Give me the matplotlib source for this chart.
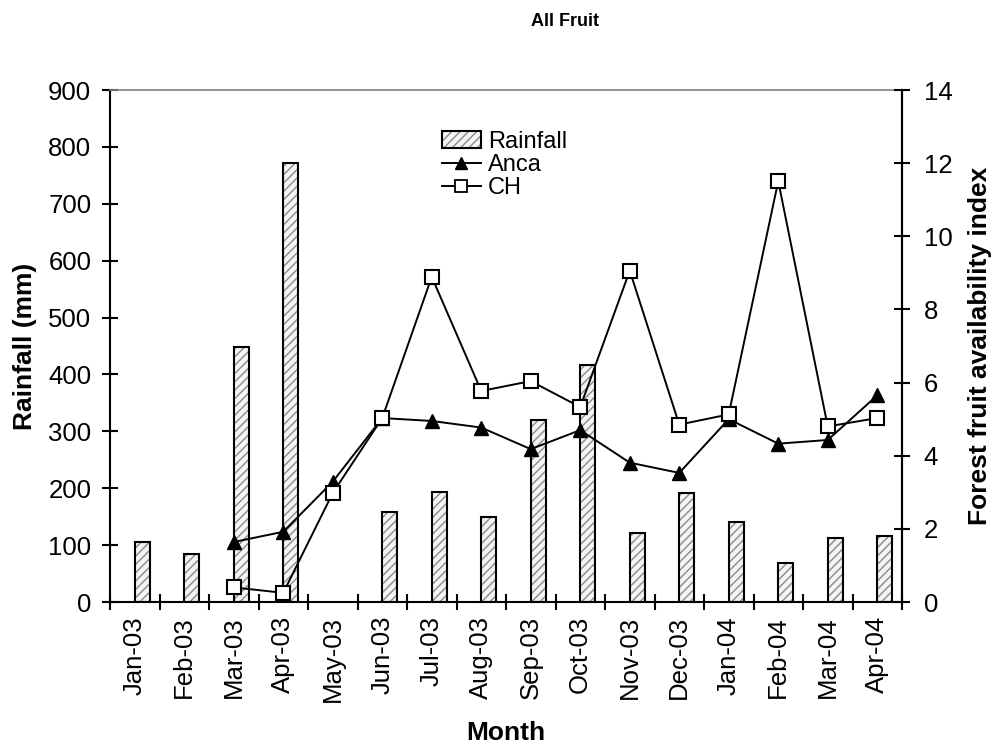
import numpy as np
import matplotlib
matplotlib.use("Agg")
import matplotlib.pyplot as plt
from matplotlib.patches import Patch
from matplotlib.legend_handler import HandlerTuple

plt.rcParams['font.family'] = ['Liberation Sans', 'DejaVu Sans']
plt.rcParams['hatch.linewidth'] = 1.0

# data
months = ['Jan-03', 'Feb-03', 'Mar-03', 'Apr-03', 'May-03', 'Jun-03', 'Jul-03', 'Aug-03',
          'Sep-03', 'Oct-03', 'Nov-03', 'Dec-03', 'Jan-04', 'Feb-04', 'Mar-04', 'Apr-04']
rainfall = [105, 85, 449, 772, np.nan, 159, 194, 149, 320, 416, 122, 191, 140, 68, 113, 116]
anca = [np.nan, np.nan, 1.64, 1.92, 3.29, 5.03, 4.95, 4.77, 4.18, 4.70, 3.81, 3.53, 5.0, 4.33, 4.43, 5.65]
ch = [np.nan, np.nan, 0.40, 0.25, 2.98, 5.03, 8.89, 5.77, 6.04, 5.33, 9.06, 4.85, 5.13, 11.51, 4.80, 5.03]

x = np.arange(len(months))
rain = np.array(rainfall, dtype=float)
has_rain = ~np.isnan(rain)

fig = plt.figure(figsize=(9.94, 7.5), dpi=100)
ax = fig.add_axes([110/994, 1 - 602/750, 792/994, 512/750])

bar_w = 0.3
hatched = ax.bar(x[has_rain], rain[has_rain], width=bar_w, align='edge',
                 facecolor='#f4f4f4', edgecolor='#8a8a8a', hatch='////', linewidth=0)
outline = ax.bar(x[has_rain], rain[has_rain], width=bar_w, align='edge',
                 fill=False, edgecolor='black', linewidth=1.5)

ax.set_xlim(-0.5, len(months) - 0.5)
ax.set_ylim(0, 900)
ax.set_yticks(range(0, 901, 100))
ax.set_xticks(np.arange(-0.5, len(months), 1))
ax.set_xticklabels([])
ax.set_xticks(x, minor=True)
ax.set_xticklabels(months, minor=True, rotation=90, fontsize=18.5)
ax.tick_params(axis='x', which='minor', length=0, pad=10)
ax.tick_params(axis='x', which='major', direction='inout', length=11, width=1.5)
ax.tick_params(axis='y', direction='inout', length=11, width=1.5, labelsize=18.5, pad=8)
for s in ['left', 'bottom', 'right']:
    ax.spines[s].set_linewidth(1.5)
ax.spines['top'].set_color('#808080')
ax.spines['top'].set_linewidth(1.2)

ax.set_ylabel('Rainfall (mm)', fontsize=19, fontweight='bold', labelpad=8)
ax.set_xlabel('Month', fontsize=19, fontweight='bold', labelpad=14)

ax2 = ax.twinx()
ax2.set_ylim(0, 14)
ax2.set_yticks(range(0, 15, 2))
ax2.tick_params(axis='y', direction='inout', length=11, width=1.5, labelsize=18.5, pad=10)
ax2.spines['right'].set_linewidth(1.5)
ax2.spines['left'].set_visible(False)
ax2.spines['top'].set_visible(False)
ax2.spines['bottom'].set_visible(False)

l_anca, = ax2.plot(x, anca, color='black', lw=1.4, marker='^', markersize=10,
                   markerfacecolor='black', markeredgecolor='black')
l_ch, = ax2.plot(x, ch, color='black', lw=1.4, marker='s', markersize=10,
                 markerfacecolor='white', markeredgecolor='black', markeredgewidth=1.5)
ax2.set_ylabel('Forest fruit availability index', fontsize=19, fontweight='bold',
               labelpad=11)

rain_handle = (Patch(facecolor='#f4f4f4', edgecolor='#8a8a8a', hatch='////', linewidth=0),
               Patch(fill=False, edgecolor='black', linewidth=1.5))
leg_anca, = ax2.plot([], [], color='black', lw=1.4, marker='^', markersize=9)
leg_ch, = ax2.plot([], [], color='black', lw=1.4, marker='s', markersize=8,
                   markerfacecolor='white', markeredgewidth=1.3)
ax2.legend([rain_handle, leg_anca, leg_ch], ['Rainfall', 'Anca', 'CH'],
           handler_map={tuple: HandlerTuple(ndivide=1)},
           loc='upper left', bbox_to_anchor=(442/994, 1 - 131/750),
           bbox_transform=fig.transFigure, frameon=False, fontsize=17,
           handlelength=1.65, handletextpad=0.3, labelspacing=0.05,
           borderpad=0, borderaxespad=0)

fig.text(565/994, 1 - 22/750, 'All Fruit', ha='center', va='center',
         fontsize=13, fontweight='bold')

fig.savefig('out.png', dpi=100)
